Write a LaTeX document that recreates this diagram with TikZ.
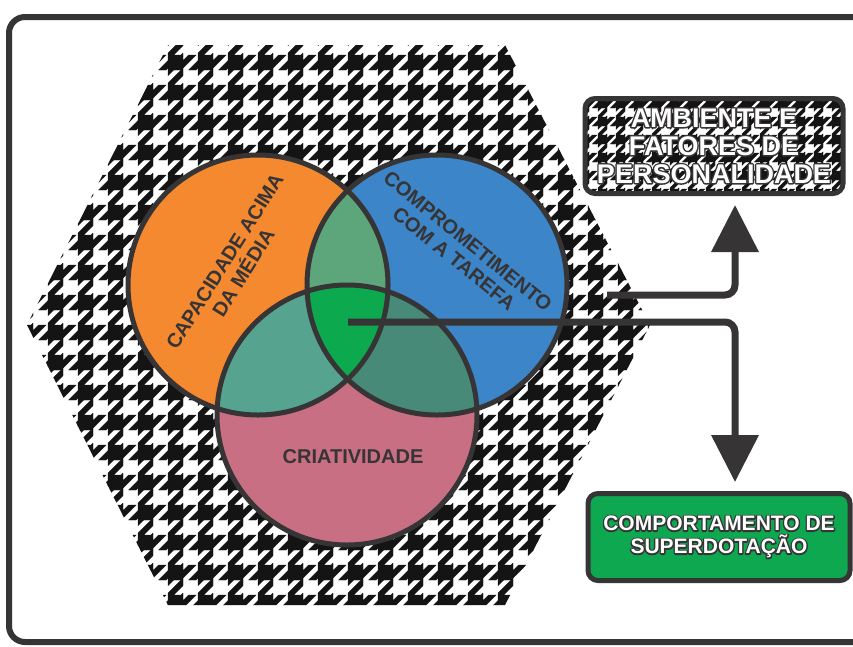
\documentclass[tikz,border=0pt]{standalone}
\usepackage{fontspec}
\setmainfont{Liberation Sans}
\usetikzlibrary{arrows.meta}

\definecolor{ink}{HTML}{373435}
\definecolor{tooth}{HTML}{141414}
\definecolor{orng}{HTML}{F4892F}
\definecolor{blu}{HTML}{3B85C8}
\definecolor{pnk}{HTML}{C86F84}
\definecolor{ob}{HTML}{5DA67C}
\definecolor{op}{HTML}{56A490}
\definecolor{bp}{HTML}{478A78}
\definecolor{core}{HTML}{0CA94F}
\definecolor{grn}{HTML}{0DA850}

% white letters with a dark rim: stroked copy below, filled text on top
\newcommand\rim[1]{\leavevmode
  \rlap{\special{pdf:literal direct 1 Tr 2.8 w 1 j 0.216 0.204 0.208 RG}#1%
    \special{pdf:literal direct 0 Tr}}#1}

\tikzset{
  hound/.pic={
    \path[fill=tooth,draw=tooth,line width=0.3pt]
      (0,0) rectangle (4,4)
      (0,4) -- (1.5,4) -- (4,6.5) -- (4,8) -- (3.5,8) -- (0,4.5) -- cycle
      (0,6.5) -- (0,8) -- (1.5,8) -- cycle
      (3.5,4) -- (4,4) -- (4,4.5) -- cycle
      (4,0.5) -- (7.5,4) -- (5.5,4) -- (4,2.5) -- cycle
      (5.5,0) -- (7.5,0) -- (8,0.5) -- (8,2.5) -- cycle;
  }
}

\begin{document}
\begin{tikzpicture}[x=1pt,y=-1pt,
    venn/.style={draw=ink,line width=5pt},
    conn/.style={draw=ink,line width=7pt,rounded corners=10pt,
      -{Triangle[width=46pt,length=47pt]}},
    lbl/.style={text=ink,font=\fontsize{20}{22}\selectfont\bfseries,
      align=center,inner sep=0pt},
    boxlbl/.style={text=white,align=center,inner sep=0pt,
      rounded corners=10pt,draw=ink,line width=5pt}]
  \useasboundingbox (0,0) rectangle (853,646);
  \fill[white] (0,0) rectangle (853,646);

  % outer frame
  \draw[ink,line width=6pt,rounded corners=16pt] (9,17) rectangle (880,642);

  % houndstooth hexagon
  \begin{scope}
    \clip (27,325) -- (168,45) -- (505,45) -- (650,325) -- (505,605) -- (168,605) -- cycle;
    \foreach \i in {0,...,22}
      \foreach \j in {0,...,20}
        \pic[xscale=3.75,yscale=-3.75] at (18+\i*30,40+\j*30) {hound};
  \end{scope}

  % venn circles
  \coordinate (oc) at (258,285);
  \coordinate (bc) at (437,285);
  \coordinate (pc) at (347,415);
  \fill[orng] (oc) circle[radius=130];
  \fill[blu] (bc) circle[radius=130];
  \fill[pnk] (pc) circle[radius=130];
  \begin{scope}
    \clip (oc) circle[radius=130];
    \fill[ob] (bc) circle[radius=130];
    \fill[op] (pc) circle[radius=130];
  \end{scope}
  \begin{scope}
    \clip (bc) circle[radius=130];
    \fill[bp] (pc) circle[radius=130];
    \clip (oc) circle[radius=130];
    \fill[core] (pc) circle[radius=130];
  \end{scope}
  \draw[venn] (oc) circle[radius=130];
  \draw[venn] (bc) circle[radius=130];
  \draw[venn] (pc) circle[radius=130];

  \node[lbl,rotate=58] (capa) at (234,267) {CAPACIDADE ACIMA\\DA MÉDIA};
  \node[lbl,rotate=-39] (tare) at (461,250) {COMPROMETIMENTO\\COM A TAREFA};
  \node[lbl] (cria) at (353,457) {CRIATIVIDADE};

  % boxes
  \begin{scope}
    \clip[rounded corners=10pt] (585,98) rectangle (843,193);
    \fill[white] (585,98) rectangle (843,193);
    \foreach \i in {0,...,15}
      \foreach \j in {0,...,6}
        \pic[xscale=2.25,yscale=-2.25] at (580+\i*18,108+\j*18) {hound};
  \end{scope}
  \node[boxlbl,minimum width=258pt,minimum height=95pt,
    font=\fontsize{27}{28}\selectfont\bfseries] (amb) at (714,146)
    {\rim{AMBIENTE E}\\\rim{FATORES DE}\\\rim{PERSONALIDADE}};
  \node[boxlbl,fill=grn,minimum width=262pt,minimum height=87pt,
    font=\fontsize{21}{23}\selectfont\bfseries] (comp) at (719,537)
    {\rim{COMPORTAMENTO DE}\\\rim{SUPERDOTAÇÃO}};

  % connectors
  \coordinate (hub) at (348,322);
  \coordinate (tap) at (607,295);
  \coordinate (uptip) at (735,205);
  \coordinate (downtip) at (735,482);
  \draw[conn] (tap) -| (uptip);
  \draw[conn] (hub) -| (downtip);
\end{tikzpicture}
\end{document}
